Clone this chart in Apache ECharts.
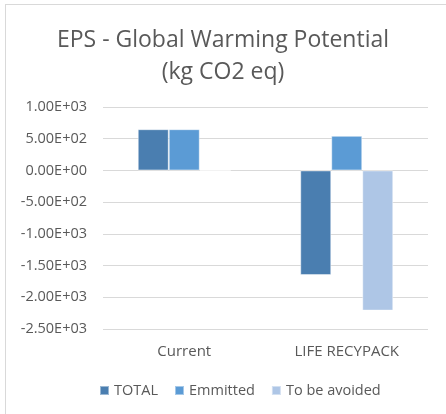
<!DOCTYPE html>
<html>
<head>
<meta charset="utf-8">
<script src="https://cdn.jsdelivr.net/npm/echarts@6/dist/echarts.min.js"></script>
<style>
html,body{margin:0;padding:0;background:#fff;}
#c{width:446px;height:414px;}
</style>
</head>
<body>
<div id="c"></div>
<script>
var categories = ['Current', 'LIFE RECYPACK'];
var seriesNames = ['TOTAL', 'Emmitted', 'To be avoided'];
var totalValues = [650, -1650];
var emmittedValues = [650, 545];
var avoidedValues = [0, -2210];

function fmtE(v) {
  if (v === 0) return '0.00E+00';
  var s = Number(v).toExponential(2).toUpperCase();
  var parts = s.split('E');
  var exp = parseInt(parts[1], 10);
  var sign = exp < 0 ? '-' : '+';
  var a = Math.abs(exp);
  return parts[0] + 'E' + sign + (a < 10 ? '0' + a : '' + a);
}

var chart = echarts.init(document.getElementById('c'));
var font = 'Open Sans';
var txt = '#595959';
chart.setOption({
  animation: false,
  backgroundColor: '#fff',
  textStyle: { fontFamily: font },
  title: {
    text: 'EPS - Global Warming Potential\n(kg CO2 eq)',
    left: 'center',
    top: 19,
    textStyle: { fontFamily: font, fontSize: 23, fontWeight: 'normal', color: txt, lineHeight: 32 }
  },
  legend: {
    data: seriesNames,
    bottom: 11,
    left: 94,
    itemWidth: 9,
    itemHeight: 9,
    itemGap: 16,
    icon: 'rect',
    textStyle: { fontFamily: font, fontSize: 14.5, color: txt }
  },
  grid: { left: 103, right: 18, top: 107, bottom: 85 },
  xAxis: {
    type: 'category',
    data: categories,
    position: 'bottom',
    axisLine: { show: false, onZero: false },
    axisTick: { show: false },
    axisLabel: { fontFamily: font, fontSize: 15, color: txt, margin: 15 }
  },
  yAxis: {
    type: 'value',
    min: -2500,
    max: 1000,
    interval: 500,
    axisLine: { show: false },
    axisTick: { show: false },
    splitLine: { lineStyle: { color: '#d9d9d9', width: 1 } },
    axisLabel: { fontFamily: font, fontSize: 14.5, color: txt, margin: 16, formatter: fmtE }
  },
  series: [
    { name: seriesNames[0], type: 'bar', data: totalValues, barWidth: 31, barGap: '0%',
      itemStyle: { color: '#4a7eb0', borderColor: 'rgba(255,255,255,0.45)', borderWidth: 1 } },
    { name: seriesNames[1], type: 'bar', data: emmittedValues, barWidth: 31, barGap: '0%',
      itemStyle: { color: '#5b9bd5', borderColor: 'rgba(255,255,255,0.45)', borderWidth: 1 } },
    { name: seriesNames[2], type: 'bar', data: avoidedValues, barWidth: 31, barGap: '0%',
      itemStyle: { color: '#aec6e6', borderColor: 'rgba(255,255,255,0.45)', borderWidth: 1 } }
  ],
  graphic: [
    { type: 'line', shape: { x1: 5, y1: 4.5, x2: 446, y2: 4.5 }, style: { stroke: '#d9d9d9', lineWidth: 1 }, silent: true },
    { type: 'line', shape: { x1: 5.5, y1: 4, x2: 5.5, y2: 414 }, style: { stroke: '#d9d9d9', lineWidth: 1 }, silent: true }
  ]
});
</script>
</body>
</html>
